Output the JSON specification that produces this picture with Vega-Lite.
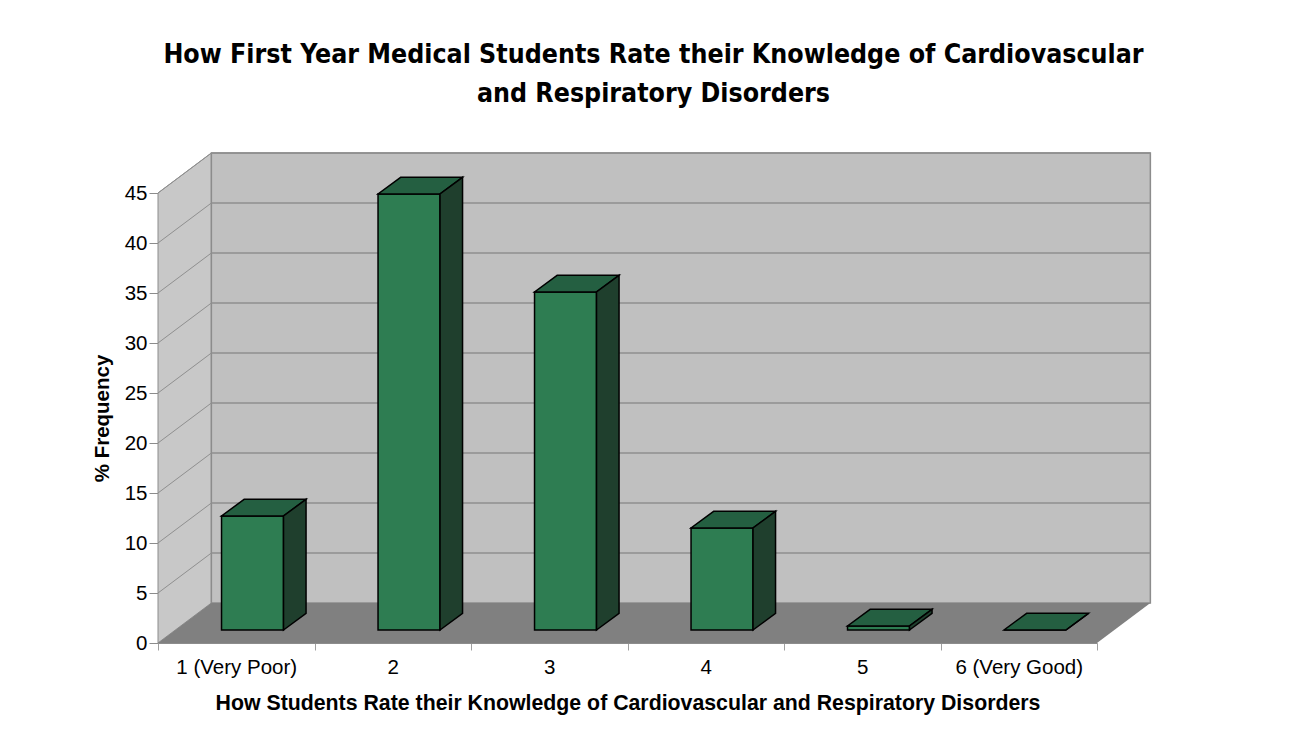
{
  "$schema": "https://vega.github.io/schema/vega-lite/v6.json",
  "width": 939,
  "height": 450,
  "autosize": {"type": "none"},
  "padding": {"left": 158, "top": 193, "right": 209, "bottom": 108},
  "background": "white",
  "config": {"view": {"stroke": null}, "font": "Liberation Sans"},
  "title": {
    "text": ["How First Year Medical Students Rate their Knowledge of Cardiovascular", "and Respiratory Disorders"],
    "font": "DejaVu Sans Condensed, DejaVu Sans, sans-serif",
    "fontSize": 26.5,
    "fontWeight": "bold",
    "color": "black",
    "lineHeight": 39,
    "anchor": "middle",
    "frame": "group",
    "dx": 26,
    "offset": 44
  },
  "datasets": {
    "ratings": [
      {"rating": 1, "label": "1 (Very Poor)", "pct": 11.4},
      {"rating": 2, "label": "2", "pct": 43.6},
      {"rating": 3, "label": "3", "pct": 33.8},
      {"rating": 4, "label": "4", "pct": 10.2},
      {"rating": 5, "label": "5", "pct": 0.4},
      {"rating": 6, "label": "6 (Very Good)", "pct": 0}
    ],
    "levels": [{"g": 5}, {"g": 10}, {"g": 15}, {"g": 20}, {"g": 25}, {"g": 30}, {"g": 35}, {"g": 40}, {"g": 45}]
  },
  "layer": [
    {
      "data": {"values": [{}]},
      "transform": [
        {"calculate": "0", "as": "a"},
        {"calculate": "1", "as": "b"},
        {"fold": ["a", "b"], "as": ["k", "t"]},
        {"calculate": "0.5 + 0.341 * datum.t", "as": "wx"},
        {"calculate": "4 * datum.t", "as": "wy"},
        {"calculate": "45 + 4 * datum.t", "as": "wy2"}
      ],
      "mark": {"type": "area", "orient": "vertical", "fill": "#c8c8c8", "stroke": "#8c8c8c", "strokeWidth": 1},
      "encoding": {
        "x": {"field": "wx", "type": "quantitative", "title": "How Students Rate their Knowledge of Cardiovascular and Respiratory Disorders", "scale": {"domain": [0.5, 6.5], "nice": false, "zero": false}},
        "y": {"field": "wy", "type": "quantitative", "title": "% Frequency", "scale": {"domain": [0, 45], "nice": false, "zero": false}},
        "y2": {"field": "wy2"}
      }
    },
    {
      "data": {"values": [{}]},
      "mark": {"type": "rect", "fill": "#c0c0c0", "stroke": "#8c8c8c", "strokeWidth": 1.5},
      "encoding": {
        "x": {"datum": 0.841, "type": "quantitative", "title": "How Students Rate their Knowledge of Cardiovascular and Respiratory Disorders", "scale": {"domain": [0.5, 6.5], "nice": false, "zero": false}},
        "x2": {"datum": 6.841},
        "y": {"datum": 4, "type": "quantitative", "title": "% Frequency", "scale": {"domain": [0, 45], "nice": false, "zero": false}},
        "y2": {"datum": 49}
      }
    },
    {
      "data": {"values": [{}]},
      "transform": [
        {"calculate": "0", "as": "a"},
        {"calculate": "1", "as": "b"},
        {"fold": ["a", "b"], "as": ["k", "t"]},
        {"calculate": "0.5 + 0.341 * datum.t", "as": "fx"},
        {"calculate": "6.5 + 0.341 * datum.t", "as": "fx2"},
        {"calculate": "4 * datum.t", "as": "fy"}
      ],
      "mark": {"type": "area", "orient": "horizontal", "fill": "#808080"},
      "encoding": {
        "y": {"field": "fy", "type": "quantitative", "title": "% Frequency", "scale": {"domain": [0, 45], "nice": false, "zero": false}},
        "x": {"field": "fx", "type": "quantitative", "title": "How Students Rate their Knowledge of Cardiovascular and Respiratory Disorders", "scale": {"domain": [0.5, 6.5], "nice": false, "zero": false}},
        "x2": {"field": "fx2"}
      }
    },
    {
      "data": {"name": "levels"},
      "transform": [{"calculate": "datum.g + 4", "as": "gy"}],
      "mark": {"type": "rule", "color": "#8f8f8f", "strokeWidth": 1.5},
      "encoding": {
        "x": {"datum": 0.841, "type": "quantitative", "title": "How Students Rate their Knowledge of Cardiovascular and Respiratory Disorders", "scale": {"domain": [0.5, 6.5], "nice": false, "zero": false}},
        "x2": {"datum": 6.841},
        "y": {"field": "gy", "type": "quantitative", "title": "% Frequency", "scale": {"domain": [0, 45], "nice": false, "zero": false}}
      }
    },
    {
      "data": {"name": "levels"},
      "transform": [{"calculate": "datum.g + 4", "as": "gy"}],
      "mark": {"type": "rule", "color": "#8f8f8f", "strokeWidth": 1},
      "encoding": {
        "x": {"datum": 0.5, "type": "quantitative", "title": "How Students Rate their Knowledge of Cardiovascular and Respiratory Disorders", "scale": {"domain": [0.5, 6.5], "nice": false, "zero": false}},
        "x2": {"datum": 0.841},
        "y": {"field": "g", "type": "quantitative", "title": "% Frequency", "scale": {"domain": [0, 45], "nice": false, "zero": false}},
        "y2": {"field": "gy"}
      }
    },
    {
      "data": {"name": "ratings"},
      "transform": [
        {"calculate": "datum.rating - 0.094", "as": "x0"},
        {"calculate": "datum.rating + 0.302", "as": "x1"},
        {"calculate": "1.3", "as": "yb"},
        {"calculate": "1.3 + datum.pct", "as": "yt"}
      ],
      "mark": {"type": "rect", "fill": "#2e7d52", "stroke": "black", "strokeWidth": 1.5},
      "encoding": {
        "x": {
          "field": "x0", "type": "quantitative",
          "title": "How Students Rate their Knowledge of Cardiovascular and Respiratory Disorders",
          "scale": {"domain": [0.5, 6.5], "nice": false, "zero": false},
          "axis": {
            "values": [0.5, 1, 1.5, 2, 2.5, 3, 3.5, 4, 4.5, 5, 5.5, 6, 6.5],
            "labelExpr": "datum.value == 1 ? '1 (Very Poor)' : datum.value == 6 ? '6 (Very Good)' : (datum.value % 1 == 0 ? '' + datum.value : '')",
            "tickOpacity": {"condition": {"test": "datum.value % 1 != 0", "value": 1}, "value": 0},
            "tickSize": 7,
            "tickColor": "#a0a0a0",
            "domainColor": "#8c8c8c",
            "labelFontSize": 20.5,
            "labelColor": "black",
            "labelPadding": 7,
            "labelOverlap": false,
            "labelFlush": false,
            "grid": false,
            "titleFontSize": 21.3,
            "titleFontWeight": "bold",
            "titleColor": "black",
            "titlePadding": 15
          }
        },
        "x2": {"field": "x1"},
        "y": {
          "field": "yb", "type": "quantitative",
          "title": "% Frequency",
          "scale": {"domain": [0, 45], "nice": false, "zero": false},
          "axis": {
            "values": [0, 5, 10, 15, 20, 25, 30, 35, 40, 45],
            "tickSize": 9,
            "tickColor": "#8c8c8c",
            "domainColor": "#8c8c8c",
            "labelFontSize": 20.5,
            "labelColor": "black",
            "labelPadding": 2,
            "grid": false,
            "titleFontSize": 20.5,
            "titleFontWeight": "bold",
            "titleColor": "black",
            "titlePadding": 12
          }
        },
        "y2": {"field": "yt"}
      }
    },
    {
      "data": {"name": "ratings"},
      "transform": [
        {"calculate": "0", "as": "a"},
        {"calculate": "1", "as": "b"},
        {"fold": ["a", "b"], "as": ["k", "t"]},
        {"calculate": "datum.rating - 0.094 + 0.144 * datum.t", "as": "tx0"},
        {"calculate": "datum.rating + 0.302 + 0.144 * datum.t", "as": "tx1"},
        {"calculate": "1.3 + datum.pct + 1.67 * datum.t", "as": "ty"}
      ],
      "mark": {"type": "area", "orient": "horizontal", "fill": "#245f41", "stroke": "black", "strokeWidth": 1.5},
      "encoding": {
        "y": {"field": "ty", "type": "quantitative", "title": "% Frequency", "scale": {"domain": [0, 45], "nice": false, "zero": false}},
        "x": {"field": "tx0", "type": "quantitative", "title": "How Students Rate their Knowledge of Cardiovascular and Respiratory Disorders", "scale": {"domain": [0.5, 6.5], "nice": false, "zero": false}},
        "x2": {"field": "tx1"},
        "detail": {"field": "rating", "type": "nominal"}
      }
    },
    {
      "data": {"name": "ratings"},
      "transform": [
        {"calculate": "0", "as": "a"},
        {"calculate": "1", "as": "b"},
        {"fold": ["a", "b"], "as": ["k", "t"]},
        {"calculate": "datum.rating + 0.302 + 0.144 * datum.t", "as": "sx"},
        {"calculate": "1.3 + 1.67 * datum.t", "as": "sy0"},
        {"calculate": "1.3 + datum.pct + 1.67 * datum.t", "as": "sy1"}
      ],
      "mark": {"type": "area", "orient": "vertical", "fill": "#1f3f2d", "stroke": "black", "strokeWidth": 1.5},
      "encoding": {
        "x": {"field": "sx", "type": "quantitative", "title": "How Students Rate their Knowledge of Cardiovascular and Respiratory Disorders", "scale": {"domain": [0.5, 6.5], "nice": false, "zero": false}},
        "y": {"field": "sy0", "type": "quantitative", "title": "% Frequency", "scale": {"domain": [0, 45], "nice": false, "zero": false}},
        "y2": {"field": "sy1"},
        "detail": {"field": "rating", "type": "nominal"}
      }
    }
  ]
}
